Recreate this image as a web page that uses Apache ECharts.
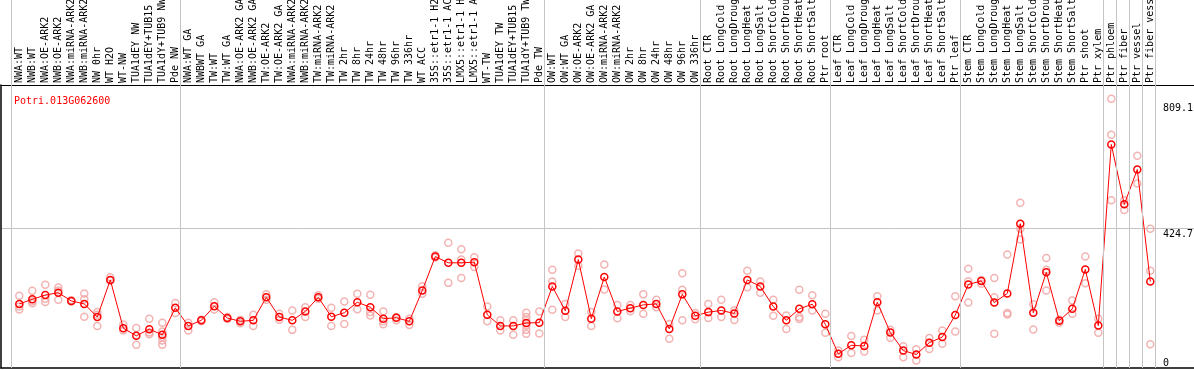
<!DOCTYPE html>
<html>
<head>
<meta charset="utf-8">
<script src="https://cdn.jsdelivr.net/npm/echarts@6/dist/echarts.min.js"></script>
<style>html,body{margin:0;padding:0;background:#fff}#c{width:1194px;height:370px}</style>
</head>
<body>
<div id="c"></div>
<script>
const title = 'Potri.013G062600';
const categories = [
 'NWA:WT','NWB:WT','NWA:OE-ARK2','NWB:OE-ARK2','NWA:miRNA-ARK2','NWB:miRNA-ARK2','NW 0hr','WT H2O','WT-NW','TUA1dEY NW','TUA1dEY+TUB15','TUA1dY+TUB9 NW','Pde NW',
 'NWA:WT GA','NWBWT GA','TW:WT','TW:WT GA','NWA:OE-ARK2 GA','NWB:OE-ARK2 GA','TW:OE-ARK2','TW:OE-ARK2 GA','NWA:miRNA-ARK2','NWB:miRNA-ARK2','TW:miRNA-ARK2','TW:miRNA-ARK2','TW 2hr','TW 8hr','TW 24hr','TW 48hr','TW 96hr','TW 336hr','WT ACC','35S::etr1-1 H2O','35S::etr1-1 ACC','LMX5::etr1-1 H2O','LMX5::etr1-1 ACC','WT-TW','TUA1dEY TW','TUA1dEY+TUB15','TUA1dY+TUB9 TW','Pde TW',
 'OW:WT','OW:WT GA','OW:OE-ARK2','OW:OE-ARK2 GA','OW:miRNA-ARK2','OW:miRNA-ARK2','OW 2hr','OW 8hr','OW 24hr','OW 48hr','OW 96hr','OW 336hr',
 'Root CTR','Root LongCold','Root LongDrought','Root LongHeat','Root LongSalt','Root ShortCold','Root ShortDrought','Root ShortHeat','Root ShortSalt','Ptr root',
 'Leaf CTR','Leaf LongCold','Leaf LongDrought','Leaf LongHeat','Leaf LongSalt','Leaf ShortCold','Leaf ShortDrought','Leaf ShortHeat','Leaf ShortSalt','Ptr leaf',
 'Stem CTR','Stem LongCold','Stem LongDrought','Stem LongHeat','Stem LongSalt','Stem ShortCold','Stem ShortDrought','Stem ShortHeat','Stem ShortSalt','Ptr shoot','Ptr xylem',
 'Ptr phloem','Ptr fiber','Ptr vessel','Ptr fiber vessel'
];
const means = [
 195,209,222,229,204,195,155,268,121,98,118,101,183,
 128,145,188,152,142,145,215,155,145,172,215,156,168,200,185,150,153,142,236,339,320,320,322,162,128,128,137,138,
 248,174,330,150,277,172,182,192,195,119,224,159,
 170,175,166,268,248,187,145,180,194,133,
 43,69,67,200,108,53,41,77,94,161,
 254,265,199,227,439,168,291,144,180,300,129,
 680,498,604,263
];
const replicates = [
 [220,187,178],[235,203,197],[253,211,201],[245,236,208],[206,202],[227,209,156],[170,162,128],[276,266],[132,114],[122,71],[150,108,103],[138,111,94,84,71],[198,167],
 [138,114],[147,142],[200,178],[155,149],[147,136],[162,128],[224,208],[165,147],[175,116],[185,155],[221,211],[183,128],[202,134],[226,179],[223,170,160],[172,142,133],[155,145],[150,131],[249,226],[343,336],[381,259],[361,330,274],[337,307],[187,142],[145,114],[145,101],[168,155,145,129,116,104],[172,105],
 [299,263,177],[195,155],[348,310],[170,128],[315,239],[192,151],[192,173],[224,165],[208,185],[134,89],[288,238,145],[167,148],
 [195,152],[208,155],[175,146],[296,246],[263,229],[208,159],[160,119],[238,155,149],[221,175],[165,107],
 [53,33],[97,46],[86,50],[218,175],[116,92],[66,33],[57,23],[91,58],[114,74],[218,111],
 [302,264,199],[268,256],[274,215,104],[345,167,163],[503,424,391],[194,117],[335,299,236],[147,138],[205,165],[339,258],[150,107],
 [819,710,510],[510,481],[646,561],[424,296,72]
];
const groupStarts = [0,13,41,53,63,73,84,85,86,87,88];
const yLabelsTop = [424.7, 809.1];
const yLabelsBottom = [0];
const gridValue = 424.7;

const FONT = 'DejaVu Sans Mono';
const XMIN = -1.4077, XMAX = 90.362, YMAX = 861;
const meanData = means.map((v,i)=>[i,v]);
const repData = [];
replicates.forEach((arr,i)=>arr.forEach(v=>repData.push([i,v])));

const chart = echarts.init(document.getElementById('c'), null, {renderer:'canvas'});
chart.setOption({
  animation:false,
  backgroundColor:'#fff',
  title:{text:title,left:9,top:91,textStyle:{fontFamily:FONT,fontSize:10,fontWeight:'normal',color:'#ff0000'}},
  grid:[
    {left:1,right:0,top:85,bottom:2,outerBoundsMode:'none',containLabel:false},
    {left:1,right:0,top:0,bottom:2,outerBoundsMode:'none',containLabel:false},
    {left:12.8,width:1144,top:85,bottom:2,outerBoundsMode:'none',containLabel:false}
  ],
  xAxis:[
    {type:'value',gridIndex:0,min:XMIN,max:XMAX,position:'bottom',axisLine:{show:true,onZero:false,lineStyle:{color:'#000',width:1.5}},axisTick:{show:false},axisLabel:{show:false},splitLine:{show:false}},
    {type:'value',gridIndex:0,min:XMIN,max:XMAX,position:'top',axisLine:{show:true,onZero:false,lineStyle:{color:'#000',width:1}},axisTick:{show:false},axisLabel:{show:false},splitLine:{show:false}},
    {type:'value',gridIndex:1,min:XMIN,max:XMAX,show:false},
    {type:'category',gridIndex:2,data:categories,position:'top',boundaryGap:true,axisLine:{show:false},axisTick:{show:false},splitLine:{show:false},
     axisLabel:{interval:0,rotate:90,margin:2,align:'left',verticalAlign:'middle',hideOverlap:false,fontFamily:FONT,fontSize:10,color:'#000'}}
  ],
  yAxis:[
    {type:'value',gridIndex:0,min:0,max:YMAX,position:'right',axisLine:{show:false},axisTick:{show:false},splitLine:{show:false},
     axisLabel:{customValues:yLabelsTop,inside:true,align:'left',verticalAlign:'top',margin:31,fontFamily:FONT,fontSize:10,color:'#000',padding:[1,0,0,0]}},
    {type:'value',gridIndex:0,min:0,max:YMAX,position:'right',axisLine:{show:false},axisTick:{show:false},splitLine:{show:false},
     axisLabel:{customValues:yLabelsBottom,inside:true,align:'left',verticalAlign:'bottom',margin:31,fontFamily:FONT,fontSize:10,color:'#000'}},
    {type:'value',gridIndex:0,min:0,max:YMAX,position:'left',axisLine:{show:true,onZero:false,lineStyle:{color:'#000',width:1.5}},axisTick:{show:false},axisLabel:{show:false},splitLine:{show:false}},
    {type:'value',gridIndex:1,min:0,max:1,show:false},
    {type:'value',gridIndex:2,min:0,max:1,show:false}
  ],
  series:[
    {type:'line',xAxisIndex:2,yAxisIndex:3,data:[],silent:true,z:1,
     markLine:{silent:true,symbol:['none','none'],label:{show:false},lineStyle:{color:'#c4c4c4',width:1,type:'solid'},
       data:groupStarts.map(k=>({xAxis:k-8/13}))}},
    {type:'scatter',xAxisIndex:0,yAxisIndex:0,data:repData,symbol:'circle',symbolSize:7,z:2,
     itemStyle:{color:'rgba(0,0,0,0)',borderColor:'#f0a0a0',borderWidth:1.5}},
    {type:'line',xAxisIndex:0,yAxisIndex:0,data:meanData,symbol:'circle',symbolSize:7,showAllSymbol:true,z:3,
     lineStyle:{color:'#ff0000',width:1},
     itemStyle:{color:'rgba(0,0,0,0)',borderColor:'#ff0000',borderWidth:1.5},
     markLine:{silent:true,symbol:['none','none'],label:{show:false},lineStyle:{color:'#c4c4c4',width:1,type:'solid'},data:[{yAxis:gridValue}],z:0}}
  ]
});
</script>
</body>
</html>
